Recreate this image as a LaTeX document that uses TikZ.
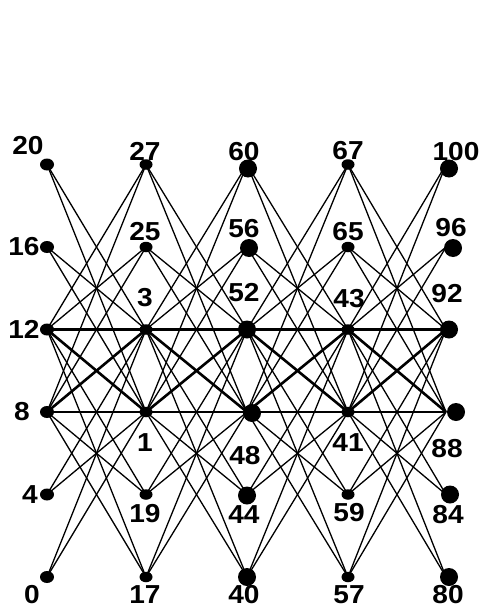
\documentclass[tikz,border=0pt]{standalone}
\usepackage{fontspec}
\usetikzlibrary{shapes.geometric}
\newfontfamily\lblfont{Liberation Sans}[FakeStretch=1.08]
\tikzset{
  thinedge/.style={line width=1.3pt, black},
  thickedge/.style={line width=2.6pt, black},
  dotA/.style={ellipse, fill=black, inner sep=0pt, minimum width=14pt, minimum height=12pt},
  dotB/.style={ellipse, fill=black, inner sep=0pt, minimum width=13pt, minimum height=10.5pt},
  dotC/.style={circle, fill=black, inner sep=0pt, minimum size=18pt},
  lbl/.style={font=\lblfont\bfseries\fontsize{26}{26}\selectfont, inner sep=0pt, anchor=center}
}
\begin{document}
\begin{tikzpicture}[x=1pt,y=-1pt]
\useasboundingbox (0,0) rectangle (480,610);
% grid coordinates
\foreach \c/\x in {0/47,1/146,2/247,3/348,4/446}{
  \foreach \r/\y in {0/164.5,1/247,2/329.5,3/412,4/494.5,5/577}{
    \coordinate (g\c\r) at (\x,\y);
  }
}
% edges
\foreach \c/\d in {0/1,1/2,2/3,3/4}{
  \foreach \a in {0,1,4,5}{
    \foreach \b in {2,3}{
      \draw[thinedge] (g\c\a) -- (g\d\b);
      \draw[thinedge] (g\c\b) -- (g\d\a);
    }
  }
  \foreach \a in {2,3}{
    \foreach \b in {2,3}{
      \draw[thickedge] (g\c\a) -- (g\d\b);
    }
  }
}
% dots
\foreach \r in {0,...,5}{
  \node[dotA] (d0\r) at (g0\r) {};
  \node[dotB] (d1\r) at (g1\r) {};
  \node[dotB] (d3\r) at (g3\r) {};
}
\foreach \r/\dx/\dy in {0/1/4,1/2/1,2/0/0,3/5/1,4/0/1,5/0/0}{
  \node[dotC] (d2\r) at ([shift={(\dx,\dy)}]g2\r) {};
}
\foreach \r/\dx/\dy in {0/3/4,1/7/1,2/3/0,3/10/0,4/4/0,5/3/0}{
  \node[dotC] (d4\r) at ([shift={(\dx,\dy)}]g4\r) {};
}
% labels
\foreach \n/\t/\x/\y in {
  l00/20/28/146, l10/27/145/151, l20/60/244/152, l30/67/348/151, l40/100/456/152,
  l01/16/24/247, l11/25/145/232, l21/56/244/229, l31/65/348/232, l41/96/451/228,
  l02/12/24/329, l12/3/145/298, l22/52/244/293, l32/43/349/299, l42/92/447/294,
  l03/8/22/412, l13/1/145/443, l23/48/245/456, l33/41/348/443, l43/88/447/449,
  l04/4/30/495, l14/19/145/514, l24/44/244/515, l34/59/349/513, l44/84/448/515,
  l05/0/32/595, l15/17/145/595, l25/40/244/595, l35/57/349/595, l45/80/448/595}{
  \node[lbl] (\n) at (\x,\y) {\t};
}
\end{tikzpicture}
\end{document}
